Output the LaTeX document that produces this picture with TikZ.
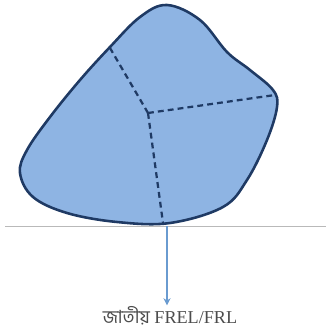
\documentclass[tikz,border=0pt]{standalone}
\usepackage{fontspec}
\setmainfont{Liberation Serif}
\newfontfamily\bengalifont[Script=Bengali]{Hind Siliguri}
\usepackage{xcolor}
\usetikzlibrary{arrows.meta,positioning}

\definecolor{blockfill}{HTML}{8EB4E3}
\definecolor{blockedge}{HTML}{1F3A64}
\definecolor{arrowblue}{HTML}{6A9BD0}

\begin{document}
\begin{tikzpicture}[
    x=0.03cm, y=-0.03cm,
    >=Stealth,
    block/.style={draw=blockedge, fill=blockfill, line width=2.2pt, line join=round},
    seam/.style={draw=blockedge, line width=1.9pt, dash pattern=on 5pt off 3.5pt},
    ground/.style={draw=gray!55, line width=0.8pt},
    arr/.style={draw=arrowblue, line width=1.6pt, -{Stealth[length=6pt, width=6pt]}},
    label/.style={font=\fontsize{15.5}{18}\selectfont, text=black!70, inner sep=1pt},
]
\useasboundingbox (0,0) rectangle (326,336);

% Ground line
\draw[ground] (5,226) -- (326,226);

% Forest block
\draw[block] plot[smooth cycle, tension=0.6] coordinates {
    (167,5) (140,17) (110,47) (80,80) (50,117) (27,150) (20,173)
    (33,197) (67,213) (117,222) (170,223) (223,207) (247,180)
    (267,140) (277,107) (273,90) (250,70) (227,52)
    (200,20)};

% Corners of the block
\coordinate (centre) at (148,113);
\coordinate (upper) at (110,48);
\coordinate (right) at (275,95);
\coordinate (bottom) at (163,223);

% Dashed seams
\draw[seam] (centre) -- (upper);
\draw[seam] (centre) -- (right);
\draw[seam] (centre) -- (bottom);

% Reference level
\node[label] (frel) at (170,316) {{\bengalifont জাতীয়} FREL/FRL};
\draw[arr] (bottom) ++(4,3) coordinate (foot) -- (frel.north -| foot);

\end{tikzpicture}
\end{document}
